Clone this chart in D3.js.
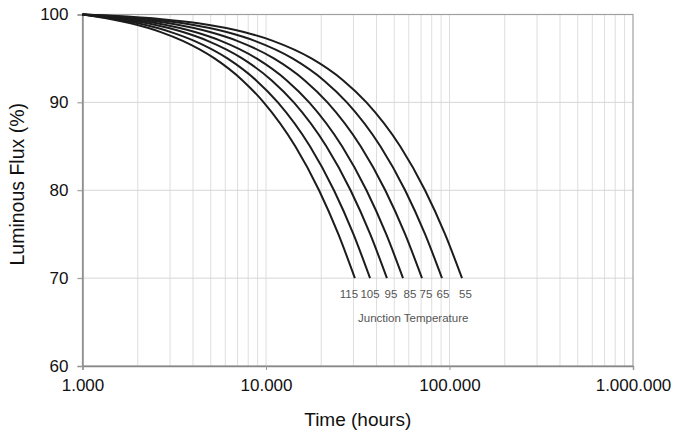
<!DOCTYPE html>
<html>
<head>
<meta charset="utf-8">
<script src="https://cdn.jsdelivr.net/npm/d3@7"></script>
<style>
  html, body { margin: 0; padding: 0; background: #fff; }
  svg { display: block; font-family: "Liberation Sans", Arial, Helvetica, sans-serif; }
</style>
</head>
<body>
<svg id="chart" width="680" height="435"></svg>
<script>
// Lumen maintenance curves, one per LED junction temperature (°C)
const junctionTemps = [115, 105, 95, 85, 75, 65, 55];

// Flux levels (%) at which the operating hours of each curve are listed
const fluxLevels = [100, 99.5, 99, 98, 97, 95, 92.5, 90, 85, 80, 75, 70];

// Operating hours to reach each flux level, per junction temperature
const hoursByTemp = [
  [1000, 1414, 1831, 2671, 3519, 5242, 7449, 9714, 14440, 19452, 24795, 30500],
  [1000, 1504, 2012, 3033, 4066, 6162, 8848, 11605, 17356, 23455, 29957, 36900],
  [1000, 1627, 2257, 3526, 4808, 7413, 10750, 14175, 21320, 28897, 36974, 45600],
  [1000, 1770, 2544, 4104, 5679, 8880, 12979, 17188, 25967, 35277, 45202, 55800],
  [1000, 1981, 2967, 4953, 6960, 11037, 16258, 21619, 32801, 44660, 57301, 70800],
  [1000, 2265, 3536, 6098, 8685, 13942, 20674, 27586, 42004, 57295, 73594, 91000],
  [1000, 2630, 4269, 7570, 10905, 17681, 26358, 35266, 53850, 73558, 94566, 117000]
];

const xTickValues = [1000, 10000, 100000, 1000000];
const xTickLabels = ["1.000", "10.000", "100.000", "1.000.000"];
const yTickValues = [60, 70, 80, 90, 100];

const svg = d3.select("#chart");
const plot = { left: 82.5, right: 633, top: 14.5, bottom: 366 };

const x = d3.scaleLog().domain([1000, 1000000]).range([plot.left, plot.right]);
const y = d3.scaleLinear().domain([60, 100]).range([plot.bottom, plot.top]);

// Minor and major vertical grid lines (every 1..9 of each decade)
const gridX = x.ticks().filter(v => v > 1000 && v < 1000000);
svg.append("g")
  .selectAll("line")
  .data(gridX)
  .join("line")
  .attr("x1", d => x(d)).attr("x2", d => x(d))
  .attr("y1", plot.top).attr("y2", plot.bottom)
  .attr("stroke", "#dedede").attr("stroke-width", 1);

// Horizontal grid lines, extended a little to the left as tick marks
svg.append("g")
  .selectAll("line")
  .data(yTickValues.filter(v => v > 60 && v < 100))
  .join("line")
  .attr("x1", plot.left - 5).attr("x2", plot.right)
  .attr("y1", d => y(d)).attr("y2", d => y(d))
  .attr("stroke", "#d6d6d6").attr("stroke-width", 1);

// Frame: axes on the left and bottom, lighter border top and right
svg.append("rect")
  .attr("x", plot.left).attr("y", plot.top)
  .attr("width", plot.right - plot.left).attr("height", plot.bottom - plot.top)
  .attr("fill", "none").attr("stroke", "#a0a0a0").attr("stroke-width", 1.2);

// Y axis
const yAxis = d3.axisLeft(y).tickValues(yTickValues).tickSize(5).tickPadding(9);
const gy = svg.append("g").attr("transform", `translate(${plot.left},0)`).call(yAxis);
gy.select(".domain").attr("stroke", "#888").attr("stroke-width", 1.4);
gy.selectAll(".tick line").attr("stroke", "#999");
gy.selectAll(".tick text")
  .attr("font-size", 17).attr("fill", "#111")
  .attr("font-family", "'Liberation Sans', Arial, sans-serif");

// X axis (log, with dotted thousands separators)
const xAxis = d3.axisBottom(x).tickValues(xTickValues)
  .tickFormat((d, i) => xTickLabels[i]).tickSize(4).tickPadding(9);
const gx = svg.append("g").attr("transform", `translate(0,${plot.bottom})`).call(xAxis);
gx.select(".domain").attr("stroke", "#888").attr("stroke-width", 1.4);
gx.selectAll(".tick line").attr("stroke", "#999");
gx.selectAll(".tick text")
  .attr("font-size", 17).attr("fill", "#111")
  .attr("font-family", "'Liberation Sans', Arial, sans-serif");

// Axis titles
svg.append("text")
  .attr("x", (plot.left + plot.right) / 2).attr("y", 426)
  .attr("text-anchor", "middle").attr("font-size", 19).attr("fill", "#111")
  .text("Time (hours)");

svg.append("text")
  .attr("transform", `translate(24,${(plot.top + plot.bottom) / 2 - 6}) rotate(-90)`)
  .attr("text-anchor", "middle").attr("font-size", 19.5).attr("fill", "#111")
  .text("Luminous Flux (%)");

// Curves
const line = d3.line()
  .x(d => x(d[0]))
  .y(d => y(d[1]))
  .curve(d3.curveMonotoneX);

svg.append("g")
  .selectAll("path")
  .data(hoursByTemp.map(hrs => hrs.map((h, i) => [h, fluxLevels[i]])))
  .join("path")
  .attr("d", line)
  .attr("fill", "none")
  .attr("stroke", "#1c1c1c")
  .attr("stroke-width", 2)
  .attr("stroke-linejoin", "round");

// Temperature labels below the end of each curve (nudged so they don't collide)
const labelNudge = [-6, 0, 4, 7, 4, 1, 3.5];
const lastIdx = fluxLevels.length - 1;
svg.append("g")
  .selectAll("text")
  .data(junctionTemps)
  .join("text")
  .attr("x", (d, i) => x(hoursByTemp[i][lastIdx]) + labelNudge[i])
  .attr("y", y(fluxLevels[lastIdx]) + 19.5)
  .attr("text-anchor", "middle")
  .attr("font-size", 11.5)
  .attr("fill", "#555")
  .text(d => d);

svg.append("text")
  .attr("x", 358).attr("y", 321.5)
  .attr("font-size", 11.5).attr("fill", "#555")
  .text("Junction Temperature");
</script>
</body>
</html>
